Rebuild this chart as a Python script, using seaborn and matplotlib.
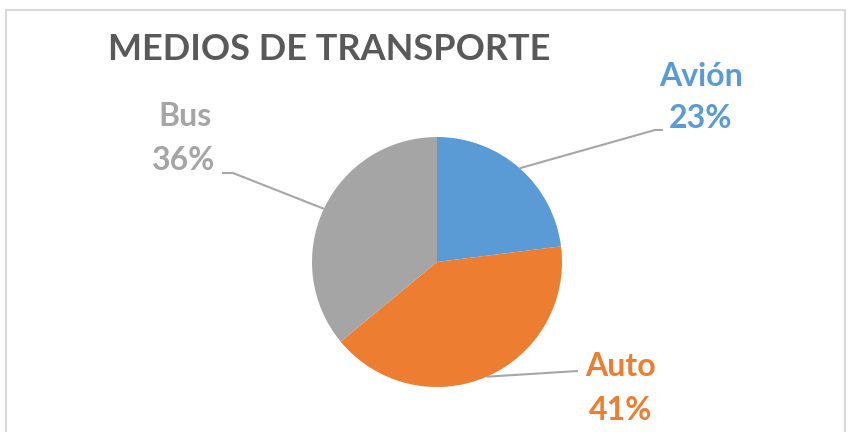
import numpy as np
import matplotlib.pyplot as plt
import seaborn as sns
from matplotlib.patches import Rectangle

# data
transportes = ['Avión', 'Auto', 'Bus']
porcentajes = [23, 41, 36]
colores = ['#5B9BD5', '#ED7D31', '#A5A5A5']

sns.set_theme(style='white')
plt.rcParams['font.family'] = ['Lato', 'DejaVu Sans']

W, H = 848, 432
fig = plt.figure(figsize=(W / 100, H / 100), dpi=100)
ax = fig.add_axes([0, 0, 1, 1])
ax.set_xlim(0, W)
ax.set_ylim(0, H)
ax.axis('off')


def py(y):
    # pixel row (from top) -> data y
    return H - y


cx, cy, r = 437, py(262), 125
wedges, _ = ax.pie(porcentajes, colors=colores, startangle=90,
                   counterclock=False, center=(cx, cy), radius=r,
                   wedgeprops=dict(linewidth=0), frame=True)
ax.set_xlim(0, W)
ax.set_ylim(0, H)
ax.axis('off')

# frame of the chart area
ax.add_patch(Rectangle((6, -10), 839, py(10) + 10, fill=False,
                       edgecolor='#D9D9D9', linewidth=1.5, zorder=0))

ax.text(108, py(50), 'MEDIOS DE TRANSPORTE', fontsize=26, fontweight='bold',
        color='#595959', ha='left', va='center')

# label placement: (name xy, pct xy, elbow point, end point)
layout = {
    'Avión': ((701, 76), (701, 119), (655, 130), (663, 130)),
    'Auto': ((621, 367), (621, 410), (578, 371), (578, 371)),
    'Bus': ((185, 116), (184, 160), (233, 173), (222, 173)),
}

for w, name, pct, col in zip(wedges, transportes, porcentajes, colores):
    mid = np.deg2rad((w.theta1 + w.theta2) / 2)
    x0, y0 = cx + r * np.cos(mid), cy + r * np.sin(mid)
    (nx, ny), (px_, pyy), (ex, ey), (fx, fy) = layout[name]
    ax.plot([x0, ex, fx], [y0, py(ey), py(fy)], color='#A6A6A6',
            linewidth=1.5, solid_capstyle='butt', zorder=1)
    ax.text(nx, py(ny), name, fontsize=23, fontweight='bold', color=col,
            ha='center', va='center')
    ax.text(px_, py(pyy), f'{pct}%', fontsize=23, fontweight='bold',
            color=col, ha='center', va='center')

fig.savefig('out.png', dpi=100)
